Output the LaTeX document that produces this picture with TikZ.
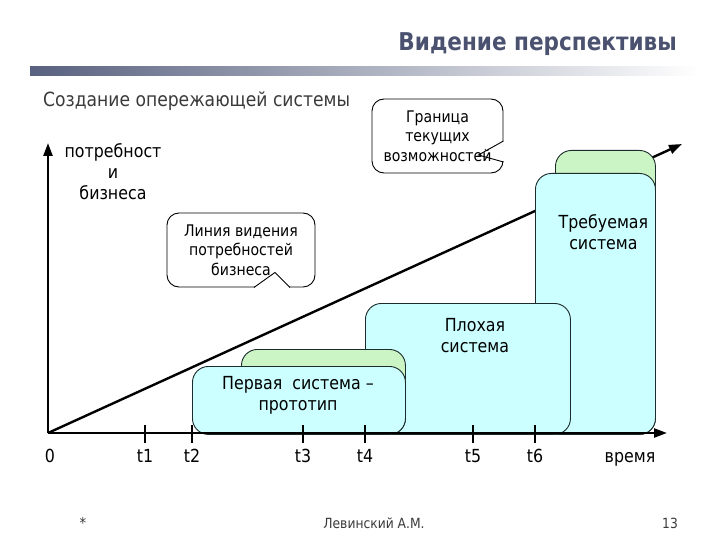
\documentclass[tikz,border=0pt]{standalone}
\usepackage{fontspec}
\setmainfont{DejaVu Sans}[FakeStretch=0.88]
\usetikzlibrary{arrows.meta,positioning,calc}
\definecolor{titlecol}{HTML}{4B5270}
\definecolor{barcol}{HTML}{58617F}
\definecolor{subcol}{HTML}{3A3A3A}
\definecolor{sysblue}{HTML}{CCFFFF}
\definecolor{sysgreen}{HTML}{CCF5C6}
\definecolor{edgecol}{HTML}{1C2B2B}
\tikzset{
  axisline/.style={line width=2.4pt, -{Triangle[length=13pt,width=9pt]}},
  tickline/.style={line width=2.2pt},
  sysbox/.style={draw=edgecol, line width=0.9pt, rounded corners=16pt,
    fill=sysblue, anchor=north west, inner sep=0pt},
  backbox/.style={sysbox, fill=sysgreen},
  boxtxt/.style={font=\fontsize{18}{21}\selectfont, align=center, inner sep=0pt},
  notebox/.style={draw=black, line width=0.9pt, rounded corners=12pt, fill=white,
    align=center, inner sep=0pt, font=\fontsize{16}{19.5}\selectfont},
  ticktxt/.style={font=\fontsize{18}{21}\selectfont, inner sep=0pt, anchor=base}
}
\begin{document}
\begin{tikzpicture}[x=1pt,y=-1pt]
  \useasboundingbox (0,0) rectangle (720,540);
  % header
  \node[anchor=base east, inner sep=0pt, text=titlecol,
    font=\fontsize{24.5}{28}\selectfont\bfseries] (title) at (677,51) {Видение перспективы};
  \shade[left color=barcol, right color=white] (30,67) rectangle (700,76);
  \node[anchor=base west, inner sep=0pt, text=subcol,
    font=\fontsize{19.5}{22}\selectfont] (subtitle) at (43,107) {Создание опережающей системы};

  % axes
  \coordinate (origin) at (48,433);
  \coordinate (ytip) at (48,143);
  \coordinate (xtip) at (667,433);
  \coordinate (vtip) at (682,144);
  \draw[axisline] (origin) -- (vtip);

  % systems
  \node[backbox, minimum width=100pt, minimum height=284pt] (reqback) at (555,150) {};
  \node[sysbox, minimum width=120pt, minimum height=261pt] (reqfront) at (535,173) {};
  \node[sysbox, minimum width=205pt, minimum height=131pt] (bad) at (365,303) {};
  \node[backbox, minimum width=164pt, minimum height=85pt] (protoback) at (241,349) {};
  \node[sysbox, minimum width=213pt, minimum height=68pt] (protofront) at (192,366) {};
  \node[boxtxt] (reqtxt) at ($(reqfront.north)+(8,59)$) {Требуемая\\система};
  \node[boxtxt] (badtxt) at ($(bad.north)+(7,33)$) {Плохая\\система};
  \node[boxtxt] (prototxt) at ($(protofront.north)+(-1,29)$) {Первая~ система –\\прототип};

  \draw[axisline] (origin) -- (ytip);
  \draw[axisline] (origin) -- (xtip);
  \node[boxtxt] (ylabel) at (113,172) {потребност\\и\\бизнеса};

  % ticks
  \node[ticktxt] (t0) at (50,462) {0};
  \foreach \x/\lab in {145/t1,192/t2,303/t3,365/t4,473/t5,535/t6}{
    \draw[tickline] (\x,425) -- (\x,443);
    \node[ticktxt] (\lab) at (\x,462) {\lab};
  }
  \node[ticktxt] (timelab) at (630,462) {время};

  % callouts
  \node[notebox, minimum width=148pt, minimum height=74pt] (visnote) at (241,250)
    {Линия видения\\потребностей\\бизнеса};
  \fill[white] ($(visnote.south)+(14,-1.5)$) rectangle ($(visnote.south)+(48,1.5)$);
  \draw[line width=0.9pt] ($(visnote.south)+(13,0)$) -- ($(visnote.south)+(34,-15)$)
    -- ($(visnote.south)+(49,0)$);
  \node[notebox, minimum width=131pt, minimum height=74pt] (limnote) at (437.5,136)
    {Граница\\текущих\\возможностей};
  \fill[white] ($(limnote.east)+(-1.5,5.5)$) rectangle ($(limnote.east)+(1.5,25.5)$);
  \draw[line width=0.9pt] ($(limnote.east)+(0,5)$) -- ($(limnote.east)+(-25,19)$)
    -- ($(limnote.east)+(0,26)$);

  % footer
  \node[inner sep=0pt, text=subcol, font=\fontsize{15}{16}\selectfont] (star) at (83,523) {*};
  \node[inner sep=0pt, text=subcol, font=\fontsize{14}{16}\selectfont] (author) at (374,523) {Левинский А.М.};
  \node[inner sep=0pt, text=subcol, font=\fontsize{14}{16}\selectfont] (page) at (670,523) {13};
\end{tikzpicture}
\end{document}
